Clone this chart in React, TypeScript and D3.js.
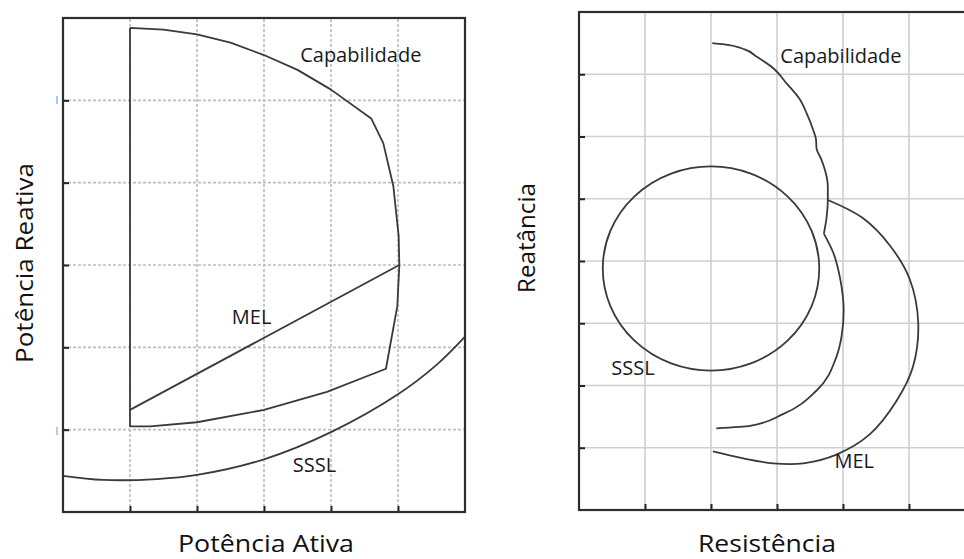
import { useEffect, useRef } from "react";
import * as d3 from "d3";

type Pt = [number, number];

// left panel (grid units): Potência Ativa x Potência Reativa
const capLeft: Pt[] = [
  [1, 5.88], [1.5, 5.86], [2, 5.8], [2.5, 5.7], [3, 5.55], [3.5, 5.37], [4, 5.13],
  [4.6, 4.78], [4.78, 4.48], [4.93, 3.96], [5.01, 3.35], [5.02, 3.0], [4.99, 2.5],
  [4.82, 1.74], [3.94, 1.46], [3, 1.24], [2, 1.09], [1.3, 1.04], [1, 1.04], [1, 5.88],
];
const melLeft: Pt[] = [[1, 1.24], [5.02, 3.0]];
const ssslLeft: Pt[] = [
  [0, 0.44], [0.6, 0.39], [1.4, 0.4], [2, 0.45], [3, 0.64], [4, 0.97], [5, 1.43], [5.58, 1.79], [6, 2.13],
];

// right panel (grid units): Resistência x Reatância
const capRightTop: Pt[] = [
  [2.02, 7.5], [2.2, 7.48], [2.51, 7.4], [2.68, 7.29], [2.94, 7.1], [3.14, 6.86], [3.35, 6.59],
  [3.45, 6.37], [3.55, 6.1], [3.59, 5.96], [3.6, 5.8], [3.66, 5.66], [3.73, 5.45], [3.77, 5.2],
  [3.77, 4.98], [3.75, 4.69], [3.71, 4.44],
];
const capRightInner: Pt[] = [
  [3.71, 4.44], [3.85, 4.14], [3.96, 3.7], [4.01, 3.2], [3.98, 2.8], [3.9, 2.46], [3.6, 1.92],
  [3.09, 1.54], [2.59, 1.35], [2.08, 1.31],
];
const melRight: Pt[] = [
  [3.77, 4.98], [4.3, 4.69], [4.71, 4.25], [5.01, 3.71], [5.14, 3.0], [5.06, 2.3], [4.81, 1.75],
  [4.4, 1.21], [3.9, 0.89], [3.4, 0.75], [2.94, 0.75], [2.49, 0.83], [2.03, 0.94],
];
const ssslRightCenter: Pt = [2.0, 3.88];
const ssslRightRadius = 1.64;

const leftTicksX = [1, 2, 3, 4, 5];
const leftTicksY = [1, 2, 3, 4, 5];
const rightTicksX = [1, 2, 3, 4, 5];
const rightTicksY = [1, 2, 3, 4, 5, 6, 7];

const leftLabels = [
  { text: "Capabilidade", x: 3.54, y: 5.46 },
  { text: "MEL", x: 2.52, y: 2.28 },
  { text: "SSSL", x: 3.43, y: 0.48 },
];
const rightLabels = [
  { text: "Capabilidade", x: 3.05, y: 7.18 },
  { text: "SSSL", x: 0.49, y: 2.17 },
  { text: "MEL", x: 3.87, y: 0.67 },
];

const FONT = "'Open Sans', sans-serif";
const INK = "#3a3a3a";

export default function App() {
  const svgRef = useRef<SVGSVGElement | null>(null);

  useEffect(() => {
    const svg = d3.select(svgRef.current);
    svg.selectAll("*").remove();

    const panels = [
      {
        x: d3.scaleLinear().domain([0, 6]).range([63, 465]),
        y: d3.scaleLinear().domain([0, 6]).range([512, 18]),
        tx: leftTicksX, ty: leftTicksY, dash: "3,2", grid: "#bdbdbd",
        curves: [
          { pts: capLeft, curve: d3.curveLinear },
          { pts: melLeft, curve: d3.curveLinear },
          { pts: ssslLeft, curve: d3.curveCatmullRom },
        ],
        labels: leftLabels, circle: null as null | { c: Pt; r: number },
      },
      {
        x: d3.scaleLinear().domain([0, 6]).range([579, 975]),
        y: d3.scaleLinear().domain([0, 8]).range([510, 12]),
        tx: rightTicksX, ty: rightTicksY, dash: null as string | null, grid: "#cfcfcf",
        curves: [
          { pts: capRightTop, curve: d3.curveMonotoneY },
          { pts: capRightInner, curve: d3.curveMonotoneY },
          { pts: melRight, curve: d3.curveCatmullRom },
        ],
        labels: rightLabels, circle: { c: ssslRightCenter, r: ssslRightRadius },
      },
    ];

    panels.forEach((p) => {
      const g = svg.append("g");
      const [x0, x1] = p.x.range();
      const [y0, y1] = p.y.range();

      // grid
      g.selectAll("line.vg").data(p.tx).enter().append("line")
        .attr("x1", (d) => p.x(d)).attr("x2", (d) => p.x(d))
        .attr("y1", y0).attr("y2", y1)
        .attr("stroke", p.grid).attr("stroke-width", 1.6)
        .attr("stroke-dasharray", p.dash);
      g.selectAll("line.hg").data(p.ty).enter().append("line")
        .attr("x1", x0).attr("x2", x1)
        .attr("y1", (d) => p.y(d)).attr("y2", (d) => p.y(d))
        .attr("stroke", p.grid).attr("stroke-width", 1.6)
        .attr("stroke-dasharray", p.dash);

      // inward ticks
      g.append("g")
        .attr("transform", `translate(${x0},0)`)
        .call(d3.axisLeft(p.y).tickValues(p.ty).tickSizeInner(-6).tickSizeOuter(0).tickFormat(() => ""))
        .call((a) => a.select(".domain").remove())
        .call((a) => a.selectAll("line").attr("stroke", "#222").attr("stroke-width", 2));
      g.append("g")
        .attr("transform", `translate(0,${y0})`)
        .call(d3.axisBottom(p.x).tickValues(p.tx).tickSizeInner(-6).tickSizeOuter(0).tickFormat(() => ""))
        .call((a) => a.select(".domain").remove())
        .call((a) => a.selectAll("line").attr("stroke", "#222").attr("stroke-width", 2));

      // curves
      p.curves.forEach((c) => {
        const line = d3.line<Pt>().x((d) => p.x(d[0])).y((d) => p.y(d[1])).curve(c.curve);
        g.append("path")
          .attr("d", line(c.pts))
          .attr("fill", "none")
          .attr("stroke", INK)
          .attr("stroke-width", 1.8)
          .attr("stroke-linejoin", "round");
      });
      if (p.circle) {
        g.append("ellipse")
          .attr("cx", p.x(p.circle.c[0]))
          .attr("cy", p.y(p.circle.c[1]))
          .attr("rx", p.x(p.circle.r) - p.x(0))
          .attr("ry", p.y(0) - p.y(p.circle.r))
          .attr("fill", "none")
          .attr("stroke", INK)
          .attr("stroke-width", 1.8);
      }

      // frame
      g.append("rect")
        .attr("x", x0).attr("y", y1)
        .attr("width", x1 - x0).attr("height", y0 - y1)
        .attr("fill", "none").attr("stroke", "#2e2e2e").attr("stroke-width", 2.2);

      // labels
      g.selectAll("text.lab").data(p.labels).enter().append("text")
        .attr("x", (d) => p.x(d.x)).attr("y", (d) => p.y(d.y))
        .attr("font-family", FONT).attr("font-size", 20).attr("fill", "#1a1a1a")
        .text((d) => d.text);
    });

    // faint blue marks left of the first panel
    svg.selectAll("rect.blue").data([100, 431]).enter().append("rect")
      .attr("x", 56).attr("y", (d) => d - 4).attr("width", 2).attr("height", 8)
      .attr("fill", "#a9cdee");

    // axis titles
    const titles = [
      { text: "Potência Ativa", x: 266, y: 552, rot: 0, len: 176 },
      { text: "Resistência", x: 767, y: 552, rot: 0, len: 138 },
      { text: "Potência Reativa", x: 33, y: 263, rot: -90, len: 200 },
      { text: "Reatância", x: 535, y: 238, rot: -90, len: 110 },
    ];
    svg.selectAll("text.title").data(titles).enter().append("text")
      .attr("transform", (d) => `translate(${d.x},${d.y}) rotate(${d.rot})`)
      .attr("text-anchor", "middle")
      .attr("font-family", FONT).attr("font-size", 23).attr("fill", "#111")
      .attr("textLength", (d) => d.len).attr("lengthAdjust", "spacingAndGlyphs")
      .text((d) => d.text);
  }, []);

  return (
    <div style={{ position: "absolute", left: 0, top: 0, width: 964, height: 559, background: "#fff" }}>
      <svg ref={svgRef} width={964} height={559} style={{ display: "block" }} />
    </div>
  );
}
